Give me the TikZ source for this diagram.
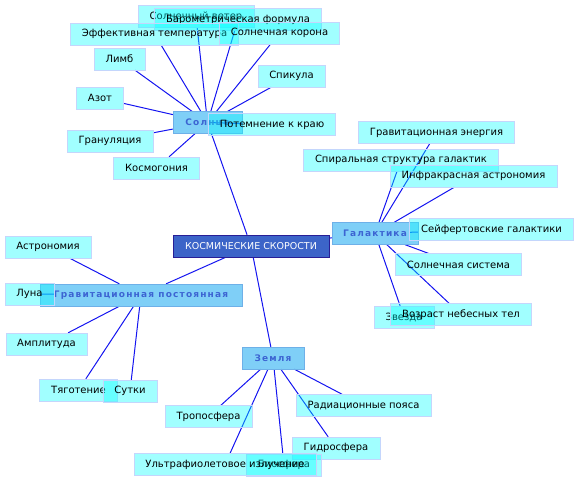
\documentclass[tikz,border=0pt]{standalone}
\usepackage{fontspec}
\setmainfont{DejaVu Sans}
\usetikzlibrary{backgrounds}
\definecolor{leaffill}{RGB}{0,255,255}
\definecolor{leafline}{RGB}{196,214,252}
\definecolor{topicfill}{RGB}{0,160,240}
\definecolor{topicline}{RGB}{110,176,232}
\definecolor{topictext}{RGB}{60,100,210}
\definecolor{corefill}{RGB}{60,100,200}
\definecolor{coreline}{RGB}{40,30,150}
\definecolor{link}{RGB}{20,20,240}
\begin{document}
\begin{tikzpicture}[x=1pt, y=-1pt,
	leaf/.style={draw=leafline, fill=leaffill, fill opacity=0.37, text opacity=1, minimum height=22pt, inner xsep=11.5pt, inner ysep=0pt, font=\fontsize{10}{12}\selectfont},
	topic/.style={draw=topicline, fill=topicfill, fill opacity=0.5, text opacity=1, text=topictext, minimum height=22pt, inner xsep=8pt, inner ysep=0pt, font=\fontsize{9}{11}\bfseries\addfontfeature{LetterSpace=13}},
	core/.style={draw=coreline, fill=corefill, text=white, minimum width=156pt, minimum height=22pt, inner ysep=0pt, font=\fontsize{9.5}{11}\selectfont}]
	\useasboundingbox (0,0) rectangle (576,483);
	\node[core] (c) at (251,246) {КОСМИЧЕСКИЕ СКОРОСТИ};
	\node[topic, minimum width=69pt] (sun) at (207.5,122.5) {Солнце};
	\node[topic, minimum width=86pt] (gal) at (375,233.5) {Галактика};
	\node[topic, minimum width=202pt] (grav) at (141,295) {Гравитационная постоянная};
	\node[topic, minimum width=62pt] (earth) at (273,358) {Земля};
	% Solntse
	\node[leaf] (wind) at (196,16.5) {Солнечный ветер};
	\node[leaf] (baro) at (238,19.5) {Барометрическая формула};
	\node[leaf] (eff) at (154.5,34) {Эффективная температура};
	\node[leaf] (corona) at (279.5,33) {Солнечная корона};
	\node[leaf] (limb) at (119.5,59) {Лимб};
	\node[leaf] (spic) at (291.5,76) {Спикула};
	\node[leaf] (azot) at (100,98) {Азот};
	\node[leaf] (gran) at (110,141) {Грануляция};
	\node[leaf] (cosm) at (156.5,168) {Космогония};
	\node[leaf] (dark) at (272,124.5) {Потемнение к краю};
	% Galaktika
	\node[leaf] (genergy) at (436.5,132.5) {Гравитационная энергия};
	\node[leaf] (spiral) at (401,160) {Спиральная структура галактик};
	\node[leaf] (infra) at (473.5,176) {Инфракрасная астрономия};
	\node[leaf] (seyf) at (491.5,229.5) {Сейфертовские галактики};
	\node[leaf] (solsys) at (458.5,264.5) {Солнечная система};
	\node[leaf] (star) at (404,317) {Звезда};
	\node[leaf] (age) at (461,314.5) {Возраст небесных тел};
	% Gravitatsionnaya postoyannaya
	\node[leaf] (astro) at (48,247) {Астрономия};
	\node[leaf] (moon) at (29.5,294) {Луна};
	\node[leaf] (ampl) at (46.5,344) {Амплитуда};
	\node[leaf] (tyag) at (78.5,390) {Тяготение};
	\node[leaf] (day) at (130,391) {Сутки};
	% Zemlya
	\node[leaf] (tropo) at (208.5,416.5) {Тропосфера};
	\node[leaf] (rad) at (363.5,405.5) {Радиационные пояса};
	\node[leaf] (hydro) at (336,448) {Гидросфера};
	\node[leaf] (bio) at (284,465) {Биосфера};
	\node[leaf] (uv) at (225,464.5) {Ультрафиолетовое излучение};
	\begin{scope}[on background layer]
		\foreach \a/\b in {c/sun, c/gal, c/grav, c/earth,
			sun/wind, sun/baro, sun/eff, sun/corona, sun/limb, sun/spic, sun/azot, sun/gran, sun/cosm, sun/dark,
			gal/genergy, gal/spiral, gal/infra, gal/seyf, gal/solsys, gal/star, gal/age,
			grav/astro, grav/moon, grav/ampl, grav/tyag, grav/day,
			earth/tropo, earth/rad, earth/hydro, earth/bio, earth/uv}
			{\draw[link, line width=1pt] (\a) -- (\b);}
	\end{scope}
\end{tikzpicture}
\end{document}
